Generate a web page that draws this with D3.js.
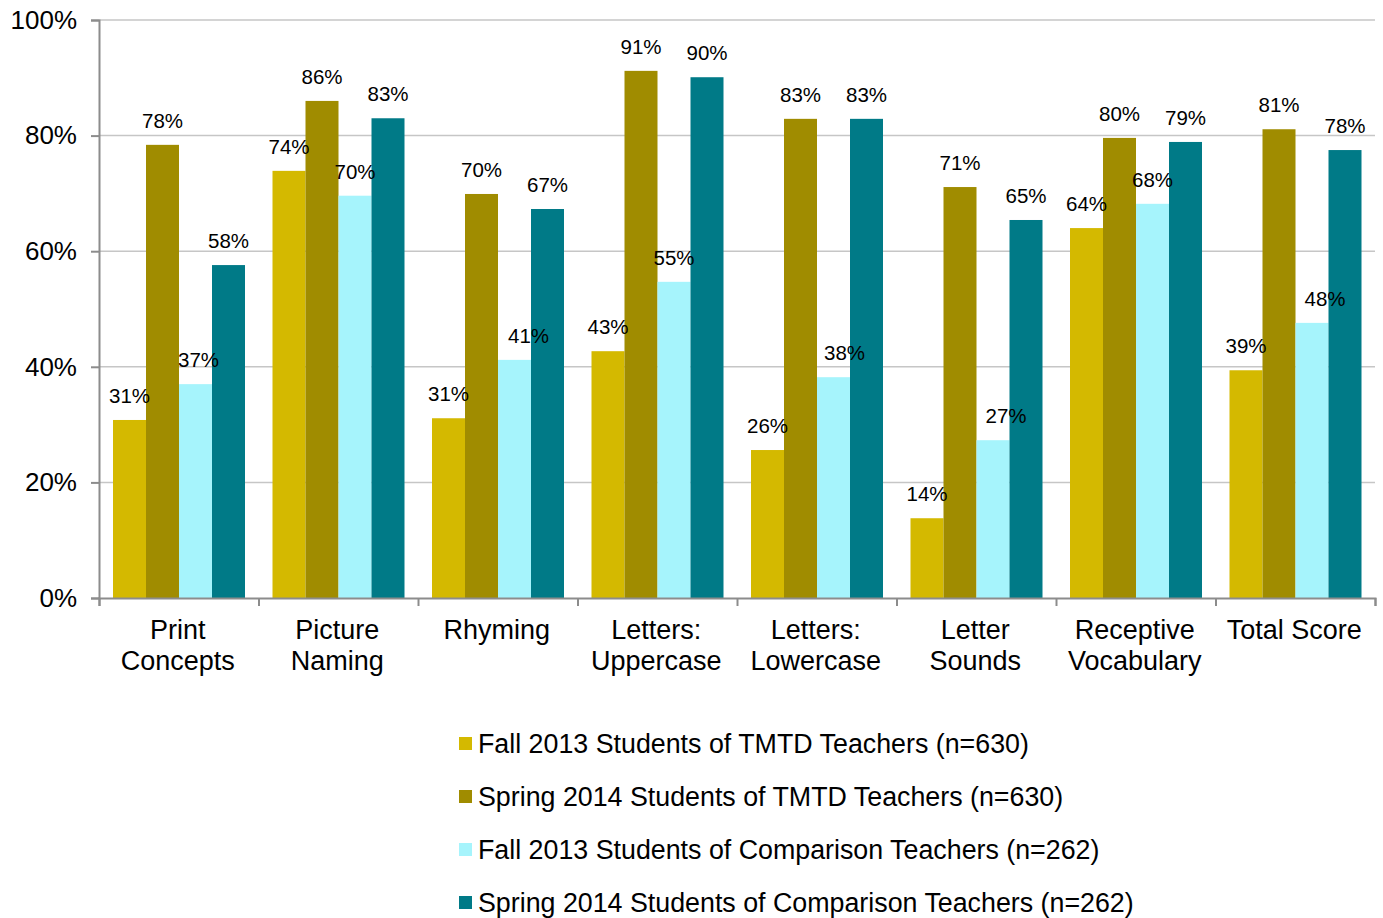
<!DOCTYPE html>
<html>
<head>
<meta charset="utf-8">
<script src="https://cdn.jsdelivr.net/npm/d3@7"></script>
<style>
  body { margin: 0; background: #fff; }
  text { font-family: "Liberation Sans", Arial, sans-serif; fill: #000; }
</style>
</head>
<body>
<div id="chart"></div>
<script>
// chart data
var categories = [
  ["Print", "Concepts"], ["Picture", "Naming"], ["Rhyming"], ["Letters:", "Uppercase"],
  ["Letters:", "Lowercase"], ["Letter", "Sounds"], ["Receptive", "Vocabulary"], ["Total Score"]
];
var seriesNames = [
  "Fall 2013 Students of TMTD Teachers (n=630)",
  "Spring 2014 Students of TMTD Teachers (n=630)",
  "Fall 2013 Students of Comparison Teachers (n=262)",
  "Spring 2014 Students of Comparison Teachers (n=262)"
];
var fallTMTD     = [30.8, 73.9, 31.1, 42.7, 25.6, 13.8, 64.0, 39.4];
var springTMTD   = [78.4, 86.0, 69.9, 91.2, 82.9, 71.1, 79.6, 81.1];
var fallComp     = [37.0, 69.6, 41.2, 54.7, 38.2, 27.3, 68.2, 47.6];
var springComp   = [57.6, 83.0, 67.3, 90.1, 82.9, 65.4, 78.9, 77.5];
var yTicks = [0, 20, 40, 60, 80, 100];
var colors = ["#D4B900", "#A08C00", "#A6F4FC", "#007A87"];

var series = [fallTMTD, springTMTD, fallComp, springComp];

// label nudges for the light cyan series (labels sit a bit to the right there)
var fallCompLabelShift = [3, 0, 14, 0, 11, 13, 0, 13];

var svgWidth = 1383, svgHeight = 918;
var margin = { top: 20, right: 8, bottom: 320, left: 99 };
var chartWidth = svgWidth - margin.left - margin.right;
var chartHeight = svgHeight - margin.top - margin.bottom;

var svg = d3.select("#chart").append("svg")
  .attr("width", svgWidth)
  .attr("height", svgHeight);

var chartGroup = svg.append("g")
  .attr("transform", `translate(${margin.left}, ${margin.top})`);

// scales
var x0 = d3.scaleBand()
  .domain(d3.range(categories.length))
  .range([0, chartWidth]);

var x1 = d3.scaleBand()
  .domain(d3.range(series.length))
  .range([14, x0.bandwidth() - 13.5]);

var yLinearScale = d3.scaleLinear()
  .domain([0, 100])
  .range([chartHeight, 0]);

// gridlines
chartGroup.append("g").selectAll("line")
  .data(yTicks.slice(1))
  .enter()
  .append("line")
  .attr("x1", 0)
  .attr("x2", chartWidth)
  .attr("y1", d => yLinearScale(d))
  .attr("y2", d => yLinearScale(d))
  .attr("stroke", "#c6c6c6")
  .attr("stroke-width", 1.5);

// bars
var groups = chartGroup.append("g").selectAll("g")
  .data(categories)
  .enter()
  .append("g")
  .attr("transform", (d, i) => `translate(${x0(i)}, 0)`);

groups.selectAll("rect")
  .data((d, i) => series.map((s, j) => ({ s: j, v: s[i], c: i })))
  .enter()
  .append("rect")
  .attr("x", d => x1(d.s))
  .attr("width", x1.bandwidth())
  .attr("y", d => yLinearScale(d.v))
  .attr("height", d => chartHeight - yLinearScale(d.v))
  .attr("fill", d => colors[d.s]);

// value labels
groups.selectAll("text.val")
  .data((d, i) => series.map((s, j) => ({ s: j, v: s[i], c: i })))
  .enter()
  .append("text")
  .attr("class", "val")
  .attr("x", d => x1(d.s) + x1.bandwidth() / 2 + (d.s === 2 ? fallCompLabelShift[d.c] : 0))
  .attr("y", d => yLinearScale(d.v) - 17)
  .attr("text-anchor", "middle")
  .attr("font-size", 20.5)
  .text(d => Math.round(d.v) + "%");

// axes
var leftAxis = d3.axisLeft(yLinearScale)
  .tickValues(yTicks)
  .tickSize(8)
  .tickPadding(14)
  .tickFormat(d => d + "%");

var yAxisG = chartGroup.append("g").call(leftAxis);
yAxisG.select(".domain").attr("stroke", "#8c8c8c").attr("stroke-width", 2);
yAxisG.selectAll(".tick line").attr("stroke", "#8c8c8c").attr("stroke-width", 2);
yAxisG.selectAll(".tick text").attr("font-size", 26).attr("font-family", "Liberation Sans, Arial, sans-serif");

var bottomAxis = d3.axisBottom(d3.scaleLinear().domain([0, categories.length]).range([0, chartWidth]))
  .tickValues(d3.range(categories.length + 1))
  .tickSize(8)
  .tickFormat("");

var xAxisG = chartGroup.append("g")
  .attr("transform", `translate(0, ${chartHeight})`)
  .call(bottomAxis);
xAxisG.select(".domain").attr("stroke", "#8c8c8c").attr("stroke-width", 2);
xAxisG.selectAll(".tick line").attr("stroke", "#8c8c8c").attr("stroke-width", 2);

// category labels
var catText = chartGroup.append("g").selectAll("text")
  .data(categories)
  .enter()
  .append("text")
  .attr("x", (d, i) => x0(i) + x0.bandwidth() / 2 - 1)
  .attr("y", chartHeight + 40.5)
  .attr("text-anchor", "middle")
  .attr("font-size", 27);

catText.selectAll("tspan")
  .data(d => d)
  .enter()
  .append("tspan")
  .attr("x", function() { return this.parentNode.getAttribute("x"); })
  .attr("dy", (d, i) => i === 0 ? 0 : 31)
  .text(d => d);

// legend
var legend = svg.append("g")
  .attr("transform", "translate(459, 737)");

var legendItems = legend.selectAll("g")
  .data(seriesNames)
  .enter()
  .append("g")
  .attr("transform", (d, i) => `translate(0, ${i * 53})`);

legendItems.append("rect")
  .attr("width", 13)
  .attr("height", 13)
  .attr("fill", (d, i) => colors[i]);

legendItems.append("text")
  .attr("x", 19)
  .attr("y", 15.5)
  .attr("font-size", 26.8)
  .text(d => d);
</script>
</body>
</html>
